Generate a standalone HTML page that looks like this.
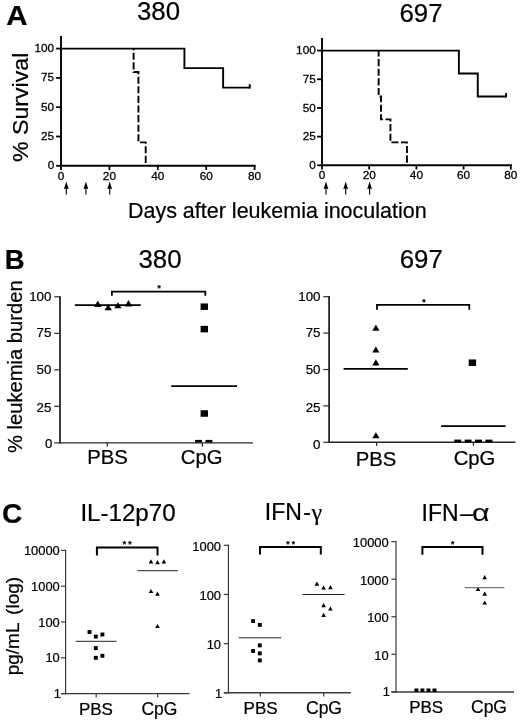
<!DOCTYPE html>
<html lang="en">
<head>
<meta charset="utf-8">
<title>Figure</title>
<style>
html,body{margin:0;padding:0;background:#fff;}
body{width:520px;height:722px;overflow:hidden;}
svg{display:block;}
svg polygon,svg rect{stroke:none;}
svg text{font-family:"Liberation Sans",sans-serif;fill:#000;stroke:#000;stroke-width:0.22px;}
</style>
</head>
<body>
<svg width="520" height="722" viewBox="0 0 520 722" fill="#000" stroke="#000">
<rect x="0" y="0" width="520" height="722" fill="#fff" stroke="none"/>
<g stroke="#000" fill="#000">
<g id="panelA">
<text x="6.30" y="24.70" font-size="27.5" text-anchor="start" font-weight="bold" textLength="21.3" lengthAdjust="spacingAndGlyphs">A</text>
<text x="158.50" y="20.30" font-size="25.8" text-anchor="middle" >380</text>
<text x="421.00" y="21.50" font-size="25.8" text-anchor="middle" >697</text>
<text transform="translate(28.2,162.0) rotate(-90)" font-size="22.6" textLength="109.3" lengthAdjust="spacingAndGlyphs">% Survival</text>
<text x="127.9" y="218.0" font-size="21.2" textLength="298.8" lengthAdjust="spacingAndGlyphs">Days after leukemia inoculation</text>
<line x1="61.00" y1="36.00" x2="61.00" y2="166.75" stroke-width="1.9" />
<line x1="60.05" y1="165.80" x2="255.60" y2="165.80" stroke-width="1.9" />
<line x1="56.10" y1="165.80" x2="61.00" y2="165.80" stroke-width="1.8" />
<text x="54.20" y="169.12" font-size="11.8" text-anchor="end" style="stroke-width:0.28px">0</text>
<line x1="56.10" y1="136.50" x2="61.00" y2="136.50" stroke-width="1.8" />
<text x="54.20" y="139.82" font-size="11.8" text-anchor="end" style="stroke-width:0.28px">25</text>
<line x1="56.10" y1="107.20" x2="61.00" y2="107.20" stroke-width="1.8" />
<text x="54.20" y="110.52" font-size="11.8" text-anchor="end" style="stroke-width:0.28px">50</text>
<line x1="56.10" y1="77.90" x2="61.00" y2="77.90" stroke-width="1.8" />
<text x="54.20" y="81.22" font-size="11.8" text-anchor="end" style="stroke-width:0.28px">75</text>
<line x1="56.10" y1="48.60" x2="61.00" y2="48.60" stroke-width="1.8" />
<text x="54.20" y="51.92" font-size="11.8" text-anchor="end" style="stroke-width:0.28px">100</text>
<line x1="61.00" y1="165.80" x2="61.00" y2="170.00" stroke-width="1.8" />
<text x="61.00" y="179.70" font-size="11.8" text-anchor="middle" style="stroke-width:0.28px">0</text>
<line x1="109.40" y1="165.80" x2="109.40" y2="170.00" stroke-width="1.8" />
<text x="109.40" y="179.70" font-size="11.8" text-anchor="middle" style="stroke-width:0.28px">20</text>
<line x1="157.80" y1="165.80" x2="157.80" y2="170.00" stroke-width="1.8" />
<text x="157.80" y="179.70" font-size="11.8" text-anchor="middle" style="stroke-width:0.28px">40</text>
<line x1="206.20" y1="165.80" x2="206.20" y2="170.00" stroke-width="1.8" />
<text x="206.20" y="179.70" font-size="11.8" text-anchor="middle" style="stroke-width:0.28px">60</text>
<line x1="254.60" y1="165.80" x2="254.60" y2="170.00" stroke-width="1.8" />
<text x="254.60" y="179.70" font-size="11.8" text-anchor="middle" style="stroke-width:0.28px">80</text>
<polyline points="61.00,48.60 184.42,48.60 184.42,68.17 223.14,68.17 223.14,87.63 249.76,87.63" fill="none" stroke-width="1.9" stroke-linejoin="miter"/>
<line x1="249.76" y1="88.58" x2="249.76" y2="84.23" stroke-width="1.9" />
<polyline points="133.60,48.60 133.60,72.04 138.44,72.04 138.44,142.36 145.70,142.36 145.70,165.80" fill="none" stroke-width="1.9" stroke-dasharray="7.1 2.5" stroke-dashoffset="5.5"/>
<line x1="66.30" y1="185.60" x2="66.30" y2="194.50" stroke-width="1.15" />
<polygon points="66.30,181.60 63.90,189.20 66.30,188.20 68.70,189.20"/>
<line x1="85.90" y1="185.60" x2="85.90" y2="194.50" stroke-width="1.15" />
<polygon points="85.90,181.60 83.50,189.20 85.90,188.20 88.30,189.20"/>
<line x1="109.70" y1="185.60" x2="109.70" y2="194.50" stroke-width="1.15" />
<polygon points="109.70,181.60 107.30,189.20 109.70,188.20 112.10,189.20"/>
<line x1="322.00" y1="38.00" x2="322.00" y2="166.25" stroke-width="1.9" />
<line x1="321.05" y1="165.30" x2="512.00" y2="165.30" stroke-width="1.9" />
<line x1="317.10" y1="165.30" x2="322.00" y2="165.30" stroke-width="1.8" />
<text x="315.80" y="169.07" font-size="11.8" text-anchor="end" style="stroke-width:0.28px">0</text>
<line x1="317.10" y1="136.62" x2="322.00" y2="136.62" stroke-width="1.8" />
<text x="315.80" y="140.40" font-size="11.8" text-anchor="end" style="stroke-width:0.28px">25</text>
<line x1="317.10" y1="107.95" x2="322.00" y2="107.95" stroke-width="1.8" />
<text x="315.80" y="111.72" font-size="11.8" text-anchor="end" style="stroke-width:0.28px">50</text>
<line x1="317.10" y1="79.28" x2="322.00" y2="79.28" stroke-width="1.8" />
<text x="315.80" y="83.05" font-size="11.8" text-anchor="end" style="stroke-width:0.28px">75</text>
<line x1="317.10" y1="50.60" x2="322.00" y2="50.60" stroke-width="1.8" />
<text x="315.80" y="54.37" font-size="11.8" text-anchor="end" style="stroke-width:0.28px">100</text>
<line x1="322.00" y1="165.30" x2="322.00" y2="169.50" stroke-width="1.8" />
<text x="322.00" y="178.85" font-size="11.8" text-anchor="middle" style="stroke-width:0.28px">0</text>
<line x1="369.20" y1="165.30" x2="369.20" y2="169.50" stroke-width="1.8" />
<text x="369.20" y="178.85" font-size="11.8" text-anchor="middle" style="stroke-width:0.28px">20</text>
<line x1="416.40" y1="165.30" x2="416.40" y2="169.50" stroke-width="1.8" />
<text x="416.40" y="178.85" font-size="11.8" text-anchor="middle" style="stroke-width:0.28px">40</text>
<line x1="463.60" y1="165.30" x2="463.60" y2="169.50" stroke-width="1.8" />
<text x="463.60" y="178.85" font-size="11.8" text-anchor="middle" style="stroke-width:0.28px">60</text>
<line x1="510.80" y1="165.30" x2="510.80" y2="169.50" stroke-width="1.8" />
<text x="510.80" y="178.85" font-size="11.8" text-anchor="middle" style="stroke-width:0.28px">80</text>
<polyline points="322.00,50.60 458.88,50.60 458.88,73.54 477.76,73.54 477.76,96.48 506.08,96.48" fill="none" stroke-width="1.9" stroke-linejoin="miter"/>
<line x1="506.08" y1="97.43" x2="506.08" y2="93.08" stroke-width="1.9" />
<polyline points="378.64,50.60 378.64,96.48 381.00,96.48 381.00,119.42 390.44,119.42 390.44,142.36 406.96,142.36 406.96,165.30" fill="none" stroke-width="1.9" stroke-dasharray="7.1 2.5" stroke-dashoffset="1.1"/>
<line x1="326.00" y1="185.60" x2="326.00" y2="194.50" stroke-width="1.15" />
<polygon points="326.00,181.60 323.60,189.20 326.00,188.20 328.40,189.20"/>
<line x1="345.70" y1="185.60" x2="345.70" y2="194.50" stroke-width="1.15" />
<polygon points="345.70,181.60 343.30,189.20 345.70,188.20 348.10,189.20"/>
<line x1="369.60" y1="185.60" x2="369.60" y2="194.50" stroke-width="1.15" />
<polygon points="369.60,181.60 367.20,189.20 369.60,188.20 372.00,189.20"/>
</g>
<g id="panelB">
<text x="4.80" y="269.40" font-size="27.5" text-anchor="start" font-weight="bold">B</text>
<text x="160.00" y="268.40" font-size="25.8" text-anchor="middle" >380</text>
<text x="421.30" y="268.40" font-size="25.8" text-anchor="middle" >697</text>
<text transform="translate(22.4,453.0) rotate(-90)" font-size="19.8" textLength="172.6" lengthAdjust="spacingAndGlyphs">% leukemia burden</text>
<line x1="60.00" y1="296.20" x2="60.00" y2="443.55" stroke-width="1.8" stroke="#262626"/>
<line x1="60.00" y1="442.85" x2="253.00" y2="442.85" stroke-width="1.4" stroke="#262626"/>
<line x1="54.20" y1="442.85" x2="60.00" y2="442.85" stroke-width="1.15" stroke="#262626"/>
<text x="52.50" y="448.31" font-size="13.3" text-anchor="end" >0</text>
<line x1="54.20" y1="406.34" x2="60.00" y2="406.34" stroke-width="1.15" stroke="#262626"/>
<text x="51.40" y="411.50" font-size="13.3" text-anchor="end" >25</text>
<line x1="54.20" y1="369.83" x2="60.00" y2="369.83" stroke-width="1.15" stroke="#262626"/>
<text x="51.40" y="373.99" font-size="13.3" text-anchor="end" >50</text>
<line x1="54.20" y1="333.31" x2="60.00" y2="333.31" stroke-width="1.15" stroke="#262626"/>
<text x="51.40" y="337.47" font-size="13.3" text-anchor="end" >75</text>
<line x1="54.20" y1="296.80" x2="60.00" y2="296.80" stroke-width="1.15" stroke="#262626"/>
<text x="51.40" y="300.96" font-size="13.3" text-anchor="end" >100</text>
<line x1="107.30" y1="442.85" x2="107.30" y2="446.65" stroke-width="1.15" stroke="#262626"/>
<line x1="202.40" y1="442.85" x2="202.40" y2="446.65" stroke-width="1.15" stroke="#262626"/>
<text x="107.50" y="463.60" font-size="20.3" text-anchor="middle" >PBS</text>
<text x="201.70" y="463.50" font-size="20.3" text-anchor="middle" >CpG</text>
<line x1="74.90" y1="305.10" x2="140.70" y2="305.10" stroke-width="1.8" />
<polygon points="97.80,300.70 94.10,306.90 101.50,306.90"/>
<polygon points="108.20,303.90 104.50,310.20 111.90,310.20"/>
<polygon points="117.90,302.20 114.20,308.30 121.60,308.30"/>
<polygon points="128.50,300.10 124.80,306.50 132.20,306.50"/>
<polyline points="111.90,295.80 111.90,291.60 205.30,291.60 205.30,295.80" fill="none" stroke-width="1.8" stroke-linejoin="miter"/>
<text x="159.10" y="291.30" font-size="8.5" text-anchor="middle" font-weight="bold">*</text>
<rect x="200.60" y="303.45" width="7.40" height="6.50"/>
<rect x="200.60" y="325.85" width="7.40" height="6.50"/>
<rect x="200.60" y="410.25" width="7.40" height="6.50"/>
<rect x="195.10" y="439.90" width="6.90" height="2.60"/>
<rect x="205.50" y="439.90" width="6.90" height="2.60"/>
<line x1="171.20" y1="386.20" x2="237.00" y2="386.20" stroke-width="1.8" />
<line x1="329.10" y1="296.10" x2="329.10" y2="443.00" stroke-width="1.8" stroke="#262626"/>
<line x1="329.10" y1="442.30" x2="515.40" y2="442.30" stroke-width="1.4" stroke="#262626"/>
<line x1="323.30" y1="442.30" x2="329.10" y2="442.30" stroke-width="1.15" stroke="#262626"/>
<text x="320.50" y="448.76" font-size="13.3" text-anchor="end" >0</text>
<line x1="323.30" y1="405.90" x2="329.10" y2="405.90" stroke-width="1.15" stroke="#262626"/>
<text x="320.50" y="411.86" font-size="13.3" text-anchor="end" >25</text>
<line x1="323.30" y1="369.50" x2="329.10" y2="369.50" stroke-width="1.15" stroke="#262626"/>
<text x="320.50" y="373.96" font-size="13.3" text-anchor="end" >50</text>
<line x1="323.30" y1="333.10" x2="329.10" y2="333.10" stroke-width="1.15" stroke="#262626"/>
<text x="320.50" y="337.26" font-size="13.3" text-anchor="end" >75</text>
<line x1="323.30" y1="296.70" x2="329.10" y2="296.70" stroke-width="1.15" stroke="#262626"/>
<text x="320.50" y="300.86" font-size="13.3" text-anchor="end" >100</text>
<line x1="376.60" y1="442.30" x2="376.60" y2="446.10" stroke-width="1.15" stroke="#262626"/>
<line x1="473.40" y1="442.30" x2="473.40" y2="446.10" stroke-width="1.15" stroke="#262626"/>
<text x="376.10" y="465.80" font-size="20.3" text-anchor="middle" >PBS</text>
<text x="474.50" y="464.90" font-size="20.3" text-anchor="middle" >CpG</text>
<polygon points="375.90,324.50 372.30,330.80 379.50,330.80"/>
<polygon points="375.90,346.40 372.30,352.60 379.50,352.60"/>
<polygon points="375.90,359.20 372.30,365.40 379.50,365.40"/>
<polygon points="375.90,432.20 372.30,438.30 379.50,438.30"/>
<line x1="343.60" y1="368.90" x2="407.80" y2="368.90" stroke-width="1.8" />
<polyline points="377.00,309.80 377.00,304.80 469.30,304.80 469.30,309.80" fill="none" stroke-width="1.8" stroke-linejoin="miter"/>
<text x="423.80" y="305.20" font-size="8.5" text-anchor="middle" font-weight="bold">*</text>
<rect x="468.70" y="359.45" width="7.40" height="6.50"/>
<rect x="454.30" y="439.60" width="6.90" height="2.70"/>
<rect x="464.70" y="439.60" width="6.90" height="2.70"/>
<rect x="475.00" y="439.60" width="7.00" height="2.70"/>
<rect x="485.40" y="439.60" width="7.00" height="2.70"/>
<line x1="441.10" y1="426.10" x2="505.50" y2="426.10" stroke-width="1.8" />
</g>
<g id="panelC">
<text x="1.90" y="522.50" font-size="28" text-anchor="start" font-weight="bold">C</text>
<text x="80.40" y="521.10" font-size="23.5" text-anchor="start" textLength="95.2" lengthAdjust="spacingAndGlyphs">IL-12p70</text>
<text x="264.8" y="520.0" font-size="23">IFN<tspan dx="1.5">-</tspan><tspan dx="0.5" font-family="'Liberation Serif', serif" font-size="24">γ</tspan></text>
<text x="421.5" y="520.6" font-size="23">IFN<tspan dx="1.6">–</tspan></text>
<text transform="translate(472.0,520.6) scale(1.22,0.94)" style="stroke-width:0.1px" font-family="'Liberation Serif', serif" font-size="25">α</text>
<text transform="translate(19.2,675.3) rotate(-90)" font-size="19">pg/mL<tspan dx="3.0"> (log)</tspan></text>
<line x1="65.60" y1="549.80" x2="65.60" y2="694.30" stroke-width="1.2" stroke="#3a3a3a"/>
<line x1="61.00" y1="693.60" x2="189.60" y2="693.60" stroke-width="1.45" stroke="#3a3a3a"/>
<line x1="61.00" y1="693.60" x2="65.60" y2="693.60" stroke-width="1.2" stroke="#3a3a3a"/>
<text x="61.00" y="698.22" font-size="12.9" text-anchor="end" >1</text>
<line x1="61.00" y1="657.80" x2="65.60" y2="657.80" stroke-width="1.2" stroke="#3a3a3a"/>
<text x="59.80" y="662.42" font-size="12.9" text-anchor="end" >10</text>
<line x1="61.00" y1="622.00" x2="65.60" y2="622.00" stroke-width="1.2" stroke="#3a3a3a"/>
<text x="59.80" y="626.62" font-size="12.9" text-anchor="end" >100</text>
<line x1="61.00" y1="586.20" x2="65.60" y2="586.20" stroke-width="1.2" stroke="#3a3a3a"/>
<text x="59.80" y="590.82" font-size="12.9" text-anchor="end" >1000</text>
<line x1="61.00" y1="550.40" x2="65.60" y2="550.40" stroke-width="1.2" stroke="#3a3a3a"/>
<text x="59.80" y="555.02" font-size="12.9" text-anchor="end" >10000</text>
<line x1="96.20" y1="693.60" x2="96.20" y2="697.40" stroke-width="1.2" stroke="#3a3a3a"/>
<line x1="157.70" y1="693.60" x2="157.70" y2="697.40" stroke-width="1.2" stroke="#3a3a3a"/>
<text x="95.90" y="715.10" font-size="17.0" text-anchor="middle" >PBS</text>
<text x="159.40" y="715.10" font-size="17.5" text-anchor="middle" >CpG</text>
<polyline points="96.90,555.40 96.90,547.50 157.50,547.50 157.50,555.40" fill="none" stroke-width="2.0" stroke-linejoin="miter"/>
<text x="124.5 130.0" y="547.2" font-size="8.5" font-weight="bold" text-anchor="middle">**</text>
<rect x="87.55" y="630.05" width="3.90" height="3.90"/>
<rect x="93.85" y="634.65" width="3.90" height="3.90"/>
<rect x="100.45" y="632.55" width="3.90" height="3.90"/>
<rect x="93.85" y="646.15" width="3.90" height="3.90"/>
<rect x="93.85" y="655.85" width="3.90" height="3.90"/>
<rect x="100.45" y="653.85" width="3.90" height="3.90"/>
<line x1="75.80" y1="641.30" x2="116.60" y2="641.30" stroke-width="1.0" stroke="#222"/>
<polygon points="151.00,559.30 148.70,563.50 153.30,563.50"/>
<polygon points="157.50,560.10 155.20,564.30 159.80,564.30"/>
<polygon points="163.90,559.30 161.60,563.50 166.20,563.50"/>
<polygon points="151.00,588.90 148.70,593.10 153.30,593.10"/>
<polygon points="157.50,591.60 155.20,595.80 159.80,595.80"/>
<polygon points="157.50,623.90 155.20,628.10 159.80,628.10"/>
<line x1="137.30" y1="570.70" x2="177.90" y2="570.70" stroke-width="1.0" stroke="#222"/>
<line x1="228.40" y1="544.70" x2="228.40" y2="693.50" stroke-width="1.2" stroke="#3a3a3a"/>
<line x1="223.80" y1="692.80" x2="350.80" y2="692.80" stroke-width="1.45" stroke="#3a3a3a"/>
<line x1="223.80" y1="692.80" x2="228.40" y2="692.80" stroke-width="1.2" stroke="#3a3a3a"/>
<text x="222.20" y="698.12" font-size="12.9" text-anchor="end" >1</text>
<line x1="223.80" y1="643.63" x2="228.40" y2="643.63" stroke-width="1.2" stroke="#3a3a3a"/>
<text x="221.00" y="648.95" font-size="12.9" text-anchor="end" >10</text>
<line x1="223.80" y1="594.47" x2="228.40" y2="594.47" stroke-width="1.2" stroke="#3a3a3a"/>
<text x="221.00" y="599.78" font-size="12.9" text-anchor="end" >100</text>
<line x1="223.80" y1="545.30" x2="228.40" y2="545.30" stroke-width="1.2" stroke="#3a3a3a"/>
<text x="221.00" y="550.62" font-size="12.9" text-anchor="end" >1000</text>
<line x1="260.30" y1="692.80" x2="260.30" y2="696.60" stroke-width="1.2" stroke="#3a3a3a"/>
<line x1="323.70" y1="692.80" x2="323.70" y2="696.60" stroke-width="1.2" stroke="#3a3a3a"/>
<text x="260.60" y="714.30" font-size="17.0" text-anchor="middle" >PBS</text>
<text x="324.00" y="714.30" font-size="17.5" text-anchor="middle" >CpG</text>
<polyline points="260.00,554.60 260.00,546.90 320.80,546.90 320.80,554.60" fill="none" stroke-width="2.0" stroke-linejoin="miter"/>
<text x="288.0 293.5" y="546.9" font-size="8.5" font-weight="bold" text-anchor="middle">**</text>
<rect x="251.15" y="619.15" width="3.90" height="3.90"/>
<rect x="257.85" y="622.95" width="3.90" height="3.90"/>
<rect x="257.85" y="643.45" width="3.90" height="3.90"/>
<rect x="251.15" y="649.05" width="3.90" height="3.90"/>
<rect x="257.85" y="651.45" width="3.90" height="3.90"/>
<rect x="257.85" y="658.45" width="3.90" height="3.90"/>
<line x1="238.80" y1="637.80" x2="281.40" y2="637.80" stroke-width="1.0" stroke="#222"/>
<polygon points="316.90,581.60 314.60,585.80 319.20,585.80"/>
<polygon points="323.60,585.40 321.30,589.60 325.90,589.60"/>
<polygon points="330.40,585.10 328.10,589.30 332.70,589.30"/>
<polygon points="323.60,603.10 321.30,607.30 325.90,607.30"/>
<polygon points="330.40,606.40 328.10,610.60 332.70,610.60"/>
<polygon points="323.60,612.80 321.30,617.00 325.90,617.00"/>
<line x1="302.40" y1="594.50" x2="344.60" y2="594.50" stroke-width="1.0" stroke="#222"/>
<line x1="396.00" y1="541.00" x2="396.00" y2="692.60" stroke-width="1.2" stroke="#3a3a3a"/>
<line x1="391.40" y1="691.90" x2="514.00" y2="691.90" stroke-width="1.45" stroke="#3a3a3a"/>
<line x1="391.40" y1="691.90" x2="396.00" y2="691.90" stroke-width="1.2" stroke="#3a3a3a"/>
<text x="389.90" y="696.32" font-size="12.9" text-anchor="end" >1</text>
<line x1="391.40" y1="654.33" x2="396.00" y2="654.33" stroke-width="1.2" stroke="#3a3a3a"/>
<text x="388.70" y="659.74" font-size="12.9" text-anchor="end" >10</text>
<line x1="391.40" y1="616.75" x2="396.00" y2="616.75" stroke-width="1.2" stroke="#3a3a3a"/>
<text x="388.70" y="622.17" font-size="12.9" text-anchor="end" >100</text>
<line x1="391.40" y1="579.17" x2="396.00" y2="579.17" stroke-width="1.2" stroke="#3a3a3a"/>
<text x="388.70" y="584.59" font-size="12.9" text-anchor="end" >1000</text>
<line x1="391.40" y1="541.60" x2="396.00" y2="541.60" stroke-width="1.2" stroke="#3a3a3a"/>
<text x="388.70" y="547.02" font-size="12.9" text-anchor="end" >10000</text>
<text x="426.20" y="713.30" font-size="17.0" text-anchor="middle" >PBS</text>
<text x="489.00" y="713.10" font-size="17.5" text-anchor="middle" >CpG</text>
<polyline points="422.40,554.70 422.40,546.90 482.50,546.90 482.50,554.70" fill="none" stroke-width="2.0" stroke-linejoin="miter"/>
<text x="452.70" y="546.70" font-size="8.5" text-anchor="middle" font-weight="bold">*</text>
<rect x="414.40" y="688.50" width="4.00" height="3.40"/>
<rect x="420.40" y="688.50" width="4.00" height="3.40"/>
<rect x="426.50" y="688.50" width="4.00" height="3.40"/>
<rect x="432.50" y="688.50" width="4.00" height="3.40"/>
<polygon points="484.70,575.10 482.40,579.30 487.00,579.30"/>
<polygon points="478.00,586.70 475.70,590.90 480.30,590.90"/>
<polygon points="484.70,591.60 482.40,595.80 487.00,595.80"/>
<polygon points="484.70,600.40 482.40,604.60 487.00,604.60"/>
<line x1="464.80" y1="587.70" x2="504.40" y2="587.70" stroke-width="1.0" stroke="#555"/>
</g>
</g>
</svg>
</body>
</html>
